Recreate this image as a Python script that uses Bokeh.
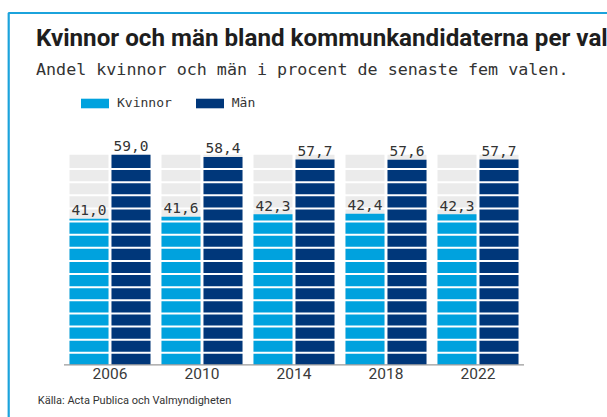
from bokeh.plotting import figure
from bokeh.models import Range1d, Label, Legend, LegendItem
from bokeh.core.properties import value
from bokeh.embed import file_html
from bokeh.resources import INLINE

# ---- data ----
years = ["2006", "2010", "2014", "2018", "2022"]
women = [41.0, 41.6, 42.3, 42.4, 42.3]
men = [59.0, 58.4, 57.7, 57.6, 57.7]
series_names = ["Kvinnor", "Män"]
title_text = "Kvinnor och män bland kommunkandidaterna per val"
subtitle_text = "Andel kvinnor och män i procent de senaste fem valen."
source_text = "Källa: Acta Publica och Valmyndigheten"

# ---- styles / layout ----
W, H = 607, 417
MARGIN = 0
BASE_PX = 364.3          # page y of value 0
PX_PER_UNIT = 3.56
GROUP_PX = 92.0
X0_PX = 63.5             # page x of data x = 0
N_SEG = 16
LIGHT = "#00a2de"
DARK = "#00377a"
GREY = "#ebebeb"
TXT = "#333333"
MONO = "DejaVu Sans Mono"
SANS = "Roboto"


def cx(page_x):
    return (page_x - MARGIN - X0_PX) / GROUP_PX


def cy(page_y):
    return (BASE_PX - page_y) / PX_PER_UNIT


p = figure(width=W, height=H, output_backend="svg", toolbar_location=None,
           x_range=Range1d(cx(MARGIN), cx(MARGIN + W)),
           y_range=Range1d(cy(MARGIN + H), cy(MARGIN)),
           x_axis_type=None, y_axis_type=None,
           min_border=0, min_border_left=0, min_border_right=0,
           min_border_top=0, min_border_bottom=0)
p.grid.visible = False
p.outline_line_color = None
p.background_fill_color = "white"
p.border_fill_color = "white"

n = len(years)
xs = [i + 0.5 for i in range(n)]
BAR_W = 39.0 / GROUP_PX
OFF = 21.0 / GROUP_PX
xw = [x - OFF for x in xs]
xm = [x + OFF for x in xs]
ymax = max(max(women), max(men))
step = ymax / N_SEG

# grey background bars
p.vbar(x=xw, top=[ymax] * n, bottom=0, width=BAR_W, fill_color=GREY, line_color=None)
p.vbar(x=xm, top=[ymax] * n, bottom=0, width=BAR_W, fill_color=GREY, line_color=None)

rw = p.vbar(x=xw, top=women, bottom=0, width=BAR_W, fill_color=LIGHT, line_color=None)
rm = p.vbar(x=xm, top=men, bottom=0, width=BAR_W, fill_color=DARK, line_color=None)

# white separators between segments
gap_units = 1.2 / PX_PER_UNIT
sx0, sx1, sy = [], [], []
for x in xs:
    for k in range(1, N_SEG):
        sx0.append(x - OFF - BAR_W / 2 - 0.01)
        sx1.append(x + OFF + BAR_W / 2 + 0.01)
        sy.append(k * step - gap_units)
p.segment(x0=sx0, x1=sx1, y0=sy, y1=sy, line_color="white", line_width=2)

# baseline
p.segment(x0=[0], x1=[n], y0=[0], y1=[0], line_color="#9a9a9a", line_width=1.2)

# value labels
def fmt(v):
    return f"{v:.1f}".replace(".", ",")

p.text(x=xw, y=women, text=[fmt(v) for v in women], y_offset=-8.5,
       text_align="center", text_baseline="middle",
       text_font=value(MONO), text_font_size="14.5px", text_color=TXT)
p.text(x=xm, y=men, text=[fmt(v) for v in men], y_offset=-8.5,
       text_align="center", text_baseline="middle",
       text_font=value(MONO), text_font_size="14.5px", text_color=TXT)

# year labels
p.text(x=xs, y=[0] * n, text=years, y_offset=9, text_align="center",
       text_baseline="middle", text_font=value(SANS), text_font_size="15.5px",
       text_color="#3a3a3a")

# frame border
p.line(x=[cx(8.2), cx(8.2), cx(800)], y=[cy(700), cy(12.5), cy(12.5)],
       line_color="#1ba3dc", line_width=2.2)

# texts
p.add_layout(Label(x=cx(35.5), y=cy(37.5), text=title_text, text_font=SANS,
                   text_font_style="bold", text_font_size="24.2px", text_color="#1e1e1e",
                   text_baseline="middle", text_align="left"))
p.add_layout(Label(x=cx(35.5), y=cy(68.5), text=subtitle_text, text_font=MONO,
                   text_font_size="16.7px", text_color=TXT,
                   text_baseline="middle", text_align="left"))
p.add_layout(Label(x=cx(37.3), y=cy(399.5), text=source_text, text_font=SANS,
                   text_font_size="11px", text_color=TXT,
                   text_baseline="middle", text_align="left"))

legend = Legend(items=[LegendItem(label=series_names[0], renderers=[rw]),
                       LegendItem(label=series_names[1], renderers=[rm])],
                orientation="horizontal", location=(77, H - 110),
                glyph_width=35, glyph_height=12, label_standoff=5, spacing=20,
                padding=0, margin=0, border_line_alpha=0, background_fill_alpha=0,
                label_text_font=MONO, label_text_font_size="13px",
                label_text_color=TXT, label_height=12)
p.add_layout(legend)

open("out.html", "w").write(file_html(p, INLINE))
